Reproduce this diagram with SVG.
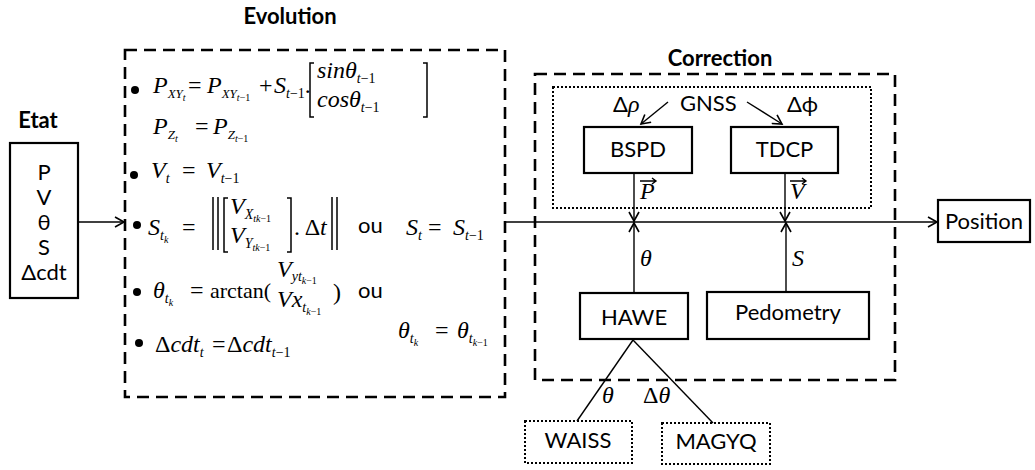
<svg xmlns="http://www.w3.org/2000/svg" width="1035" height="470" viewBox="0 0 1035 470">
<defs>
<style>
.s{font-family:Lato,"Liberation Sans","DejaVu Sans",sans-serif;font-size:22px;fill:#000}
.b{font-weight:bold}
.m{font-family:"Liberation Serif","DejaVu Serif",serif;font-style:italic;font-size:24px;fill:#000}
.u{font-style:normal}
.box{fill:#fff;stroke:#000;stroke-width:2.2}
.dash{fill:none;stroke:#000;stroke-width:2.6;stroke-dasharray:12 7}
.dot{fill:none;stroke:#000;stroke-width:2;stroke-dasharray:2 2}
.ln{fill:none;stroke:#000;stroke-width:1.4}
.br{fill:none;stroke:#000;stroke-width:1.5}
</style>
<marker id="ah" markerUnits="userSpaceOnUse" markerWidth="12" markerHeight="12" refX="10" refY="6" orient="auto">
<path d="M1,1 L10,6 L1,11" fill="none" stroke="#000" stroke-width="1.6"/>
</marker>
</defs>
<rect width="1035" height="470" fill="#fff"/>

<g id="etat">
<text class="s b" x="38" y="128" text-anchor="middle">Etat</text>
<rect class="box" x="10" y="143" width="68" height="155"/>
<text class="s" x="44" y="180" font-size="20" text-anchor="middle">P</text>
<text class="s" x="44" y="205" font-size="20" text-anchor="middle">V</text>
<text class="s" x="44" y="230" font-size="20" text-anchor="middle">θ</text>
<text class="s" x="44" y="255" font-size="20" text-anchor="middle">S</text>
<text class="s" x="44" y="280" font-size="20" text-anchor="middle">Δcdt</text>
</g>

<g id="evolution">
<text class="s b" x="290" y="24" text-anchor="middle">Evolution</text>
<rect class="dash" x="125" y="50" width="380" height="347"/>
<g fill="#000">
<circle cx="135" cy="90" r="4"/>
<circle cx="134" cy="175" r="4"/>
<circle cx="137" cy="225" r="4"/>
<circle cx="137" cy="292" r="4"/>
<circle cx="139" cy="343" r="4"/>
</g>
<text class="m" y="93"><tspan x="153">P</tspan><tspan dy="5" font-size="13">XY</tspan><tspan dy="3" font-size="10">t</tspan><tspan x="188" dy="-8" class="u">=</tspan><tspan x="207">P</tspan><tspan dy="5" font-size="13">XY</tspan><tspan dy="3" font-size="10">t<tspan class="u">−1</tspan></tspan><tspan x="259" dy="-8" class="u">+</tspan><tspan x="274">S</tspan><tspan dy="5" font-size="14">t<tspan class="u">−1</tspan></tspan><tspan dy="-5" class="u">.</tspan></text>
<path class="br" d="M314,63 H310 V117 H314 M423,63 H427 V117 H423"/>
<text class="m" y="78"><tspan x="317">sinθ</tspan><tspan dy="5" font-size="14">t<tspan class="u">−1</tspan></tspan></text>
<text class="m" y="107"><tspan x="317">cosθ</tspan><tspan dy="5" font-size="14">t<tspan class="u">−1</tspan></tspan></text>
<text class="m" y="134"><tspan x="153">P</tspan><tspan dy="5" font-size="13">Z</tspan><tspan dy="3" font-size="10">t</tspan><tspan x="195" dy="-8" class="u">=</tspan><tspan x="213">P</tspan><tspan dy="5" font-size="13">Z</tspan><tspan dy="3" font-size="10">t<tspan class="u">−1</tspan></tspan></text>
<text class="m" y="178"><tspan x="151">V</tspan><tspan dy="5" font-size="14">t</tspan><tspan x="182" dy="-5" class="u">=</tspan><tspan x="206">V</tspan><tspan dy="5" font-size="14">t<tspan class="u">−1</tspan></tspan></text>
<text class="m" y="235"><tspan x="148">S</tspan><tspan dy="5" font-size="14">t</tspan><tspan dy="3" font-size="10">k</tspan><tspan x="182" dy="-8" class="u">=</tspan></text>
<path class="br" d="M213,197 V250 M218,197 V250 M228,198 H224 V252 H228 M287,198 H291 V252 H287 M332,197 V250 M337,197 V250"/>
<text class="m" y="214"><tspan x="230">V</tspan><tspan dy="5" font-size="14">X</tspan><tspan dy="3" font-size="10">tk<tspan class="u">−1</tspan></tspan></text>
<text class="m" y="243"><tspan x="230">V</tspan><tspan dy="5" font-size="14">Y</tspan><tspan dy="3" font-size="10">tk<tspan class="u">−1</tspan></tspan></text>
<text class="m" y="235"><tspan x="294" class="u">. Δ</tspan><tspan>t</tspan></text>
<text class="s" x="358" y="233" font-size="21">ou</text>
<text class="m" y="235"><tspan x="406">S</tspan><tspan dy="5" font-size="14">t</tspan><tspan x="428" dy="-5" class="u">=</tspan><tspan x="453">S</tspan><tspan dy="5" font-size="14">t<tspan class="u">−1</tspan></tspan></text>
<text class="m" y="298"><tspan x="153">θ</tspan><tspan dy="5" font-size="14">t</tspan><tspan dy="3" font-size="10">k</tspan><tspan x="190" dy="-8" class="u">=</tspan><tspan x="210" class="u" font-size="22">arctan(</tspan></text>
<text class="m" y="277"><tspan x="277">V</tspan><tspan dy="4" font-size="14">yt</tspan><tspan dy="3" font-size="10">k<tspan class="u">−1</tspan></tspan></text>
<text class="m" y="307"><tspan x="277">Vx</tspan><tspan dy="5" font-size="14">t</tspan><tspan dy="3" font-size="10">k<tspan class="u">−1</tspan></tspan></text>
<text class="m u" x="333" y="300" font-size="22">)</text>
<text class="s" x="358" y="298" font-size="21">ou</text>
<text class="m" y="352"><tspan x="155" class="u">Δ</tspan><tspan>cdt</tspan><tspan dy="5" font-size="14">t</tspan><tspan x="212" dy="-5" class="u">=</tspan><tspan x="227" class="u">Δ</tspan><tspan>cdt</tspan><tspan dy="5" font-size="14">t<tspan class="u">−1</tspan></tspan></text>
<text class="m" y="338"><tspan x="398">θ</tspan><tspan dy="5" font-size="14">t</tspan><tspan dy="3" font-size="10">k</tspan><tspan x="435" dy="-8" class="u">=</tspan><tspan x="457">θ</tspan><tspan dy="5" font-size="14">t</tspan><tspan dy="3" font-size="10">k<tspan class="u">−1</tspan></tspan></text>
</g>

<g id="correction">
<text class="s b" x="720" y="66" text-anchor="middle">Correction</text>
<rect class="dash" x="535" y="74" width="360" height="306"/>
</g>

<g id="gnss">
<rect class="dot" x="553" y="87" width="318" height="121"/>
<text class="s" x="680" y="111">GNSS</text>
</g>

<g id="bspd">
<rect class="box" x="584" y="127" width="108" height="46"/>
<text class="s" x="638" y="157" text-anchor="middle">BSPD</text>
</g>

<g id="tdcp">
<rect class="box" x="731" y="127" width="107" height="46"/>
<text class="s" x="784.5" y="157" text-anchor="middle">TDCP</text>
</g>

<g id="hawe">
<rect class="box" x="580" y="293" width="108" height="46"/>
<text class="s" x="634" y="325" text-anchor="middle">HAWE</text>
</g>

<g id="pedometry">
<rect class="box" x="707" y="292" width="162" height="47"/>
<text class="s" x="788" y="320" text-anchor="middle">Pedometry</text>
</g>

<g id="waiss">
<rect class="dot" x="525" y="421" width="107" height="42"/>
<text class="s" x="578" y="448" text-anchor="middle" font-size="21">WAISS</text>
</g>

<g id="magyq">
<rect class="dot" x="662" y="423" width="108" height="41"/>
<text class="s" x="716" y="449" text-anchor="middle" font-size="21">MAGYQ</text>
</g>

<g id="position">
<rect class="box" x="938" y="200" width="92" height="42"/>
<text class="s" x="984" y="229" text-anchor="middle">Position</text>
</g>

<g id="connectors">
<line class="ln" x1="78" y1="222" x2="124" y2="222" marker-end="url(#ah)"/>
<line class="ln" x1="505" y1="222" x2="937" y2="222" marker-end="url(#ah)"/>
<line class="ln" x1="634" y1="173" x2="634" y2="221" marker-end="url(#ah)"/>
<line class="ln" x1="785" y1="173" x2="785" y2="221" marker-end="url(#ah)"/>
<line class="ln" x1="634" y1="292" x2="634" y2="223" marker-end="url(#ah)"/>
<line class="ln" x1="786" y1="292" x2="786" y2="223" marker-end="url(#ah)"/>
<line class="ln" x1="668" y1="102" x2="641" y2="124" marker-end="url(#ah)"/>
<line class="ln" x1="747" y1="102" x2="782" y2="124" marker-end="url(#ah)"/>
<line class="ln" x1="633" y1="340" x2="577" y2="421"/>
<line class="ln" x1="633" y1="340" x2="713" y2="423"/>
<text class="s" x="613" y="112">Δ<tspan class="m" font-size="22">ρ</tspan></text>
<text class="s" x="787" y="112">Δϕ</text>
<text class="m" x="640" y="199" font-size="22">P</text>
<path class="ln" d="M640,181 H656 M652,178 L656,181 L652,184" stroke-width="1.1"/>
<text class="m" x="790" y="199" font-size="22">V</text>
<path class="ln" d="M790,181 H806 M802,178 L806,181 L802,184" stroke-width="1.1"/>
<text class="m" x="640" y="266" font-size="22">θ</text>
<text class="m" x="792" y="266" font-size="22">S</text>
<text class="m" x="602" y="403" font-size="22">θ</text>
<text class="m" x="643" y="403" font-size="22"><tspan class="u">Δ</tspan>θ</text>
</g>
</svg>
